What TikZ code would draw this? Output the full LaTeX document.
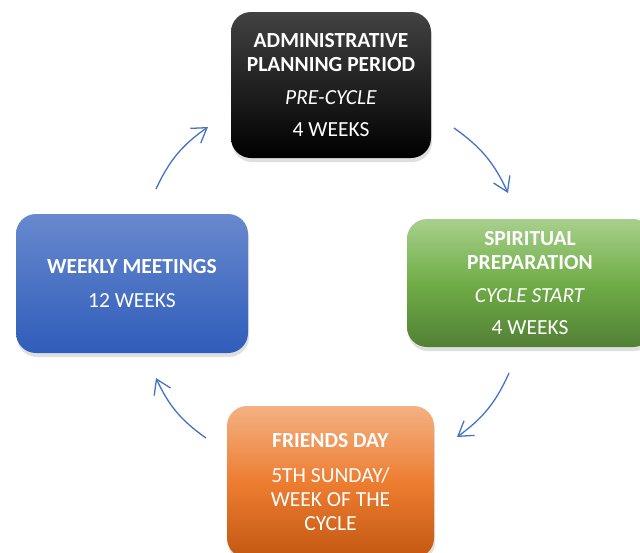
\documentclass[tikz,border=0pt]{standalone}
\usepackage{fontspec}
\setmainfont{Carlito}
\usetikzlibrary{arrows.meta,shadows}
\definecolor{arrowblue}{RGB}{68,114,196}
\definecolor{blacktop}{RGB}{66,66,66}
\definecolor{greentop}{RGB}{168,208,140}
\definecolor{greenmid}{RGB}{112,173,71}
\definecolor{greenbot}{RGB}{82,128,52}
\definecolor{orangetop}{RGB}{244,177,131}
\definecolor{orangemid}{RGB}{237,125,49}
\definecolor{orangebot}{RGB}{195,88,18}
\definecolor{bluetop}{RGB}{104,137,206}
\definecolor{bluebot}{RGB}{47,93,186}

\begin{document}
\begin{tikzpicture}[x=1pt,y=-1pt,>={Straight Barb[length=14pt,width=18pt]}]
    \tikzstyle{stage} = [shape=rectangle, rounded corners=20pt, text=white, align=center, font=\fontsize{21.5}{24}\selectfont, drop shadow={opacity=0.25, shadow xshift=1pt, shadow yshift=-4pt}]
    \tikzstyle{flow} = [draw=arrowblue, line width=1.3pt, bend left=15]
    \useasboundingbox (0,0) rectangle (640,552);
    %Creating Blocks
    \node[stage, minimum width=200pt, minimum height=146pt, top color=blacktop, bottom color=black] (admin) at (331,85) {\textbf{ADMINISTRATIVE}\\\textbf{PLANNING PERIOD}\\[9pt]\textit{PRE-CYCLE}\\[8pt]4 WEEKS};
    \node[stage, minimum width=246pt, minimum height=128pt, top color=greentop, bottom color=greenbot, middle color=greenmid] (spiritual) at (530,283) {\textbf{SPIRITUAL}\\\textbf{PREPARATION}\\[9pt]\textit{CYCLE START}\\[8pt]4 WEEKS};
    \node[stage, minimum width=207pt, minimum height=152pt, top color=orangetop, bottom color=orangebot, middle color=orangemid] (friends) at (330.5,482) {\textbf{FRIENDS DAY}\\[11pt]5TH SUNDAY/\\WEEK OF THE\\CYCLE};
    \node[stage, minimum width=232pt, minimum height=139pt, top color=bluetop, bottom color=bluebot] (weekly) at (132,283.5) {\textbf{WEEKLY MEETINGS}\\[10pt]12 WEEKS};
    %Arrow end points
    \coordinate (a_1) at (156,189);
    \coordinate (b_1) at (208,127);
    \coordinate (a_2) at (454,128);
    \coordinate (b_2) at (508,193);
    \coordinate (a_3) at (509,373);
    \coordinate (b_3) at (457,437);
    \coordinate (a_4) at (206,438);
    \coordinate (b_4) at (156,378);
    %Conecting Blocks
    \begin{scope}[flow]
        \draw[->] (a_1) to (b_1);
        \draw[->] (a_2) to (b_2);
        \draw[->] (a_3) to (b_3);
        \draw[->] (a_4) to (b_4);
    \end{scope}
\end{tikzpicture}
\end{document}
